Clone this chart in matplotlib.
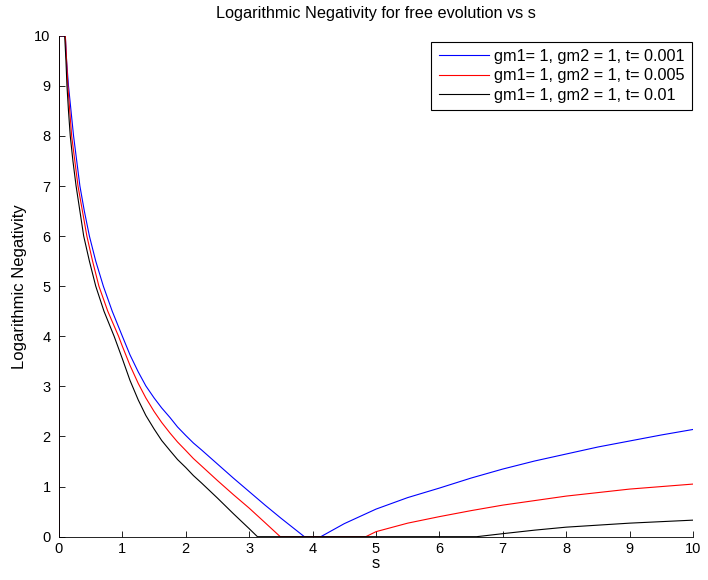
import matplotlib
matplotlib.use("Agg")
import matplotlib.pyplot as plt

plt.rcParams["font.family"] = ["Liberation Sans", "DejaVu Sans"]

# values (curves are clipped to [0, 10])
s_blue = [0, 0, 0.1, 0.12, 0.15, 0.19, 0.23, 0.28, 0.33, 0.40, 0.48, 0.58, 0.70,
          0.84, 1.0, 1.12, 1.25, 1.37, 1.5, 1.62, 1.75, 1.87, 2.0, 2.12, 2.25,
          2.5, 2.75, 3.0, 3.25, 3.5, 3.75, 3.87, 4.13, 4.5, 5.0, 5.5, 6.0, 6.5,
          7.0, 7.5, 8.0, 8.5, 9.0, 9.5, 10.0]
ln_blue = [0, 10, 10, 9.5, 9, 8.5, 8, 7.5, 7, 6.5, 6, 5.5, 5,
           4.5, 4.0, 3.63, 3.29, 3.01, 2.77, 2.57, 2.38, 2.19, 2.02, 1.87, 1.73,
           1.45, 1.17, 0.90, 0.63, 0.37, 0.12, 0, 0, 0.26, 0.55, 0.78, 0.97, 1.17,
           1.35, 1.51, 1.65, 1.79, 1.91, 2.03, 2.14]

s_red = [0, 0, 0.1, 0.12, 0.14, 0.17, 0.20, 0.25, 0.30, 0.37, 0.44, 0.53, 0.63,
         0.77, 0.94, 1.0, 1.12, 1.25, 1.37, 1.5, 1.62, 1.75, 1.87, 2.0, 2.12,
         2.25, 2.5, 2.75, 3.0, 3.25, 3.49, 4.84, 5.0, 5.5, 6.0, 6.5, 7.0, 7.5,
         8.0, 8.5, 9.0, 9.5, 10.0]
ln_red = [0, 10, 10, 9.5, 9, 8.5, 8, 7.5, 7, 6.5, 6, 5.5, 5,
          4.5, 4.0, 3.80, 3.42, 3.06, 2.77, 2.50, 2.28, 2.07, 1.89, 1.72, 1.56,
          1.41, 1.12, 0.84, 0.57, 0.28, 0, 0, 0.10, 0.27, 0.40, 0.52, 0.63, 0.72,
          0.81, 0.88, 0.95, 1.00, 1.05]

s_black = [0, 0, 0.09, 0.11, 0.126, 0.15, 0.178, 0.22, 0.27, 0.33, 0.39, 0.48, 0.58,
           0.71, 0.87, 1.0, 1.12, 1.25, 1.37, 1.5, 1.62, 1.75, 1.87, 2.0, 2.12,
           2.25, 2.5, 2.75, 3.0, 3.13, 6.59, 7.0, 7.5, 8.0, 8.5, 9.0, 9.5, 10.0]
ln_black = [0, 10, 10, 9.5, 9, 8.5, 8, 7.5, 7, 6.5, 6, 5.5, 5,
            4.5, 4.0, 3.55, 3.12, 2.73, 2.42, 2.15, 1.92, 1.72, 1.54, 1.38, 1.22,
            1.07, 0.77, 0.46, 0.16, 0, 0, 0.06, 0.13, 0.19, 0.23, 0.27, 0.30, 0.33]

labels = ["gm1= 1, gm2 = 1, t= 0.001",
          "gm1= 1, gm2 = 1, t= 0.005",
          "gm1= 1, gm2 = 1, t= 0.01"]

fig = plt.figure(figsize=(7.08, 5.8), dpi=100)
ax = fig.add_axes([0.0833, 0.0747, 0.8955, 0.8637])

ax.plot(s_blue, ln_blue, color="#0000ff", lw=0.8, label=labels[0])
ax.plot(s_red, ln_red, color="#ff0000", lw=0.8, label=labels[1])
ax.plot(s_black, ln_black, color="#000000", lw=0.8, label=labels[2])

ax.set_xlim(0, 10)
ax.set_ylim(0, 10)
ax.set_xticks(range(0, 11))
ax.set_yticks(range(0, 11))
ax.tick_params(direction="in", length=4, width=0.6, labelsize=10.5)
ax.tick_params(axis="y", pad=6)
ax.spines["top"].set_visible(False)
ax.spines["right"].set_visible(False)
for side in ["left", "bottom"]:
    ax.spines[side].set_linewidth(0.6)

ax.set_title("Logarithmic Negativity for free evolution vs s", fontsize=11.7, pad=13)
ax.set_xlabel("s", fontsize=12, labelpad=0)
ax.set_ylabel("Logarithmic Negativity", fontsize=12, labelpad=5)

leg = ax.legend(loc="upper right", bbox_to_anchor=(0.998, 0.988), borderaxespad=0,
                fancybox=False, framealpha=1, edgecolor="black", fontsize=11.7,
                handlelength=3.1, labelspacing=0.27, handletextpad=0.3,
                borderpad=0.45)
leg.get_frame().set_linewidth(0.8)

fig.savefig("out.png", dpi=100)
